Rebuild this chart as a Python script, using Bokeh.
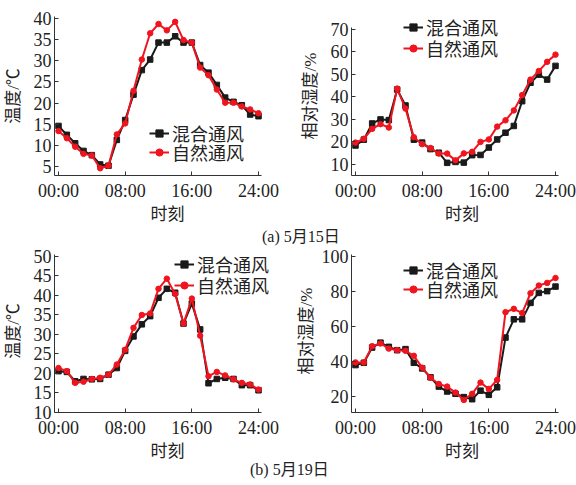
from bokeh.plotting import figure
from bokeh.models import FixedTicker, Range1d, Legend, LegendItem, Div
from bokeh.layouts import column, row
from bokeh.embed import file_html
from bokeh.resources import INLINE

hours = list(range(25))
x_ticks = [0, 8, 16, 24]
x_tick_labels = ["00:00", "08:00", "16:00", "24:00"]
series_names = ["混合通风", "自然通风"]

# (a) May 15
t15_mixed = [14.6, 12.5, 10.5, 8.7, 7.7, 5.5, 5.2, 11.3, 16.0, 22.0, 27.8, 30.3, 34.3,
             34.3, 35.8, 34.3, 34.3, 29.0, 27.2, 24.3, 21.3, 20.3, 19.5, 17.3, 16.9]
t15_natural = [13.4, 11.7, 9.7, 8.0, 7.6, 4.6, 5.2, 12.6, 15.2, 22.9, 30.3, 36.5, 38.7,
               37.2, 39.2, 34.9, 34.3, 28.4, 26.6, 23.2, 20.1, 20.1, 19.2, 18.5, 17.6]
h15_mixed = [18.4, 21.0, 28.2, 30.0, 29.7, 43.3, 36.2, 21.0, 19.7, 16.8, 15.2, 10.7, 11.1,
             10.8, 14.1, 14.2, 17.5, 21.1, 24.1, 27.1, 38.1, 46.3, 49.9, 47.7, 53.8]
h15_natural = [19.7, 21.4, 25.8, 27.9, 26.4, 43.7, 34.8, 22.1, 19.0, 17.3, 14.8, 14.8, 11.8,
               14.9, 15.6, 20.0, 21.1, 26.8, 29.6, 34.0, 40.8, 47.7, 51.5, 55.6, 58.8]
# (b) May 19
t19_mixed = [20.6, 20.4, 18.0, 18.6, 18.5, 18.6, 19.7, 21.4, 25.8, 29.5, 32.6, 34.7, 39.4,
             41.7, 40.7, 32.8, 37.9, 31.3, 17.5, 18.6, 18.9, 18.6, 17.0, 17.0, 15.7]
t19_natural = [21.4, 20.6, 17.6, 17.9, 18.6, 18.9, 19.7, 22.3, 26.1, 31.7, 35.0, 35.4, 41.7,
               44.3, 40.4, 32.8, 39.2, 29.7, 19.3, 20.4, 19.5, 18.5, 17.6, 17.2, 15.9]
h19_mixed = [38.0, 39.3, 48.0, 50.8, 48.4, 46.5, 47.1, 39.3, 36.1, 31.0, 25.7, 22.9, 21.6,
             19.7, 18.5, 23.4, 21.0, 25.3, 53.7, 64.1, 64.1, 73.5, 79.2, 80.2, 82.8]
h19_natural = [39.5, 39.5, 48.8, 50.3, 47.4, 46.5, 46.1, 43.3, 36.5, 30.8, 27.2, 25.7, 22.3,
               18.1, 21.6, 28.0, 24.4, 29.5, 68.2, 70.1, 67.7, 79.0, 83.4, 84.9, 87.7]

t15_ticks = [5, 10, 15, 20, 25, 30, 35, 40]
h15_ticks = [10, 20, 30, 40, 50, 60, 70]
t19_ticks = [10, 15, 20, 25, 30, 35, 40, 45, 50]
h19_ticks = [20, 40, 60, 80, 100]

captions = ["(a) 5月15日", "(b) 5月19日"]

FONT = "'Liberation Serif', 'Noto Sans CJK SC'"
BLACK = "#1a1a1a"
RED = "#f0141e"


def panel(width, height, left, right, top, bottom, xr, xb, yr, yb, yticks, ylabel,
          ylabel_standoff, mixed, natural, leg_x, leg_ys):
    p = figure(width=width, height=height, output_backend="svg", toolbar_location=None,
               x_range=Range1d(*xr), y_range=Range1d(*yr),
               min_border_left=left, min_border_right=right,
               min_border_top=top, min_border_bottom=bottom)
    p.outline_line_color = None
    p.xgrid.visible = False
    p.ygrid.visible = False
    p.background_fill_color = "white"
    p.border_fill_color = "white"
    r1 = p.line(hours, mixed, line_color=BLACK, line_width=2)
    s1 = p.scatter(hours, mixed, marker="square", size=5.5, fill_color=BLACK, line_color=BLACK)
    r2 = p.line(hours, natural, line_color=RED, line_width=2)
    s2 = p.scatter(hours, natural, marker="circle", size=5.5, fill_color=RED, line_color=RED)

    for ax in (p.xaxis[0], p.yaxis[0]):
        ax.major_tick_in = 4
        ax.major_tick_out = 0
        ax.minor_tick_in = 0
        ax.minor_tick_out = 0
        ax.axis_line_color = "#333333"
        ax.major_tick_line_color = "#333333"
        ax.major_label_text_font = FONT
        ax.major_label_text_font_size = "18px"
        ax.major_label_text_color = "#222222"
        ax.axis_label_text_font = FONT
        ax.axis_label_text_font_size = "17px"
        ax.axis_label_text_font_style = "normal"
        ax.axis_label_text_color = "#222222"
    p.xaxis.ticker = FixedTicker(ticks=x_ticks)
    p.xaxis.major_label_overrides = {t: lab for t, lab in zip(x_ticks, x_tick_labels)}
    p.xaxis.axis_label = "时刻"
    p.xaxis.major_label_standoff = 5
    p.xaxis.axis_label_standoff = 1
    p.xaxis.bounds = xb
    p.yaxis.ticker = FixedTicker(ticks=yticks)
    p.yaxis.axis_label = ylabel
    p.yaxis.major_label_standoff = 3
    p.yaxis.axis_label_standoff = ylabel_standoff
    p.yaxis.bounds = yb

    for name, rs, ly in zip(series_names, [[r1, s1], [r2, s2]], leg_ys):
        legend = Legend(items=[LegendItem(label=name, renderers=rs)],
                        location=(leg_x, ly), border_line_color=None, background_fill_alpha=0,
                        padding=0, margin=0, spacing=0, glyph_width=20, glyph_height=18,
                        label_height=18, label_standoff=3,
                        label_text_font=FONT, label_text_font_size="18px",
                        label_text_color="#222222")
        p.add_layout(legend, "center")
    return p


XR_L = (-0.48, 26.64)
XR_R = (-0.48, 26.04)
XB = (-0.48, 24.3)

p1 = panel(288, 226, 54, 8, 16, 50, XR_L, XB, (2.886, 40.47), (2.886, 40.47),
           t15_ticks, "温度/℃", 8, t15_mixed, t15_natural, 95, (29, 10))
p2 = panel(288, 226, 63, 4, 4, 50, XR_R, XB, (5.07, 75.75), (5.07, 70.8),
           h15_ticks, "相对湿度/%", 8, h15_mixed, h15_natural, 52, (135, 114))
p3 = panel(288, 215, 54, 8, 1, 50, XR_L, XB, (10.0, 51.78), (10.0, 50.5),
           t19_ticks, "温度/℃", 8, t19_mixed, t19_natural, 120, (135, 114))
p4 = panel(288, 215, 63, 4, 1, 50, XR_R, XB, (10.92, 103.97), (10.92, 101.1),
           h19_ticks, "相对湿度/%", 3, h19_mixed, h19_natural, 52, (129, 110))

div_style = {"font-family": FONT, "font-size": "16px", "color": "#222222"}
d1 = Div(text=captions[0], width=576, height=22, margin=0,
         styles=dict(div_style, **{"padding-left": "262px", "line-height": "22px"}))
d2 = Div(text=captions[1], width=576, height=22, margin=0,
         styles=dict(div_style, **{"padding-left": "250px", "line-height": "14px"}))

layout = column(row(p1, p2), d1, row(p3, p4), d2)

open("out.html", "w").write(file_html(layout, INLINE))
